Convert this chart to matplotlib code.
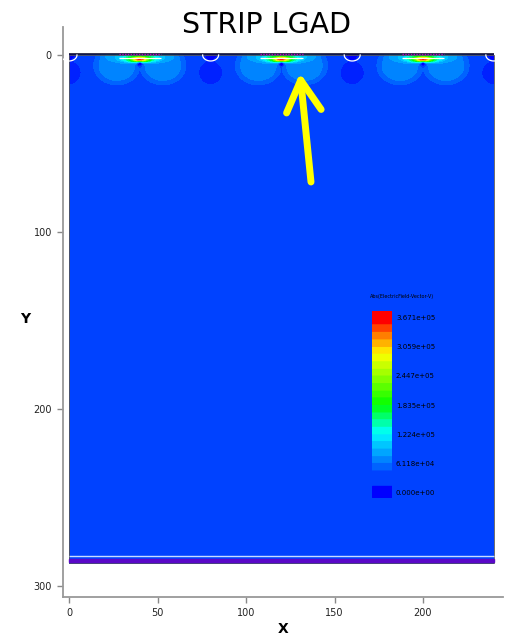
import numpy as np
import matplotlib
matplotlib.use("Agg")
import matplotlib.pyplot as plt
from matplotlib.colors import LinearSegmentedColormap, BoundaryNorm
from matplotlib.patches import Rectangle
import matplotlib.transforms as mtransforms

# device geometry (um) and field values (1e5 V/cm)
strip_x = [40, 120, 200]
gap_x = [0, 80, 160, 240]
device_width = 240
device_depth = 287
field_bg = 0.40
lobe_amp = 0.30
inner_amp = 0.25
cyan_amp = 0.75
hot_amp = 2.2
gap_amp = -0.22
cbar_ticks = [3.671, 3.059, 2.447, 1.835, 1.224, 0.6118, 0.0]
cbar_labels = ["3.671e+05", "3.059e+05", "2.447e+05", "1.835e+05",
               "1.224e+05", "6.118e+04", "0.000e+00"]
vmax = 3.671

# TCAD-like rainbow
cmap = LinearSegmentedColormap.from_list(
    "tcad", [(0.0, (0, 0, 1)), (0.333, (0, 1, 1)), (0.5, (0, 1, 0)),
             (0.8, (1, 1, 0)), (0.9, (1, 0.55, 0)), (1.0, (1, 0, 0))])
levels = np.linspace(0, vmax, 25)
norm = BoundaryNorm(levels, cmap.N)


def blob(X, Y, xc, yc, rx, ry, p=1):
    d2 = ((X - xc) / rx) ** 2 + ((Y - yc) / ry) ** 2
    return np.exp(-d2 ** p)


x = np.linspace(0, device_width, 481)
y = np.linspace(0, device_depth, 575)
X, Y = np.meshgrid(x, y)
F = np.full_like(X, field_bg)
for c in strip_x:
    F += lobe_amp * np.maximum(blob(X, Y, c - 13, 6, 12, 10, 3),
                               blob(X, Y, c + 13, 6, 12, 10, 3))
    F += inner_amp * blob(X, Y, c, 0, 20, 5, 3)
    F += cyan_amp * blob(X, Y, c, 2, 10, 2.2, 2)
    F += hot_amp * blob(X, Y, c, 2.4, 4.0, 1.2)
    F -= 0.9 * blob(X, Y, c, 4.8, 1.5, 1.5)
for g in gap_x:
    F += gap_amp * blob(X, Y, g, 10, 7, 7, 3)
    F -= 0.3 * blob(X, Y, g, 0, 4.5, 3.5, 3)
F = np.clip(F, 0.001, vmax - 0.001)

fig = plt.figure(figsize=(5.15, 6.38), dpi=100)
ax = fig.add_axes([63 / 515, 1 - 597 / 638, 440 / 515, 570 / 638])

ax.contourf(X, Y, F, levels=levels, cmap=cmap, norm=norm)
ax.add_patch(Rectangle((0, 0), device_width, device_depth, fill=False,
                       edgecolor="#555555", lw=0.6, zorder=3))

# contacts, junction lines and backside layers
ax.hlines(-0.6, 0, device_width, color="#101030", lw=1.2, zorder=4)
for c in strip_x:
    ax.hlines(-0.4, c - 12, c + 12, color="#c000c0", lw=1.0, linestyle=(0, (1, 1)), zorder=5)
    ax.hlines(1.6, c - 12, c + 12, color="white", lw=0.9, zorder=4)
t = np.linspace(0, np.pi, 40)
for g in gap_x:
    ax.plot(g + 4.5 * np.cos(t), 3.4 * np.sin(t), color="white", lw=0.9, zorder=4)
ax.hlines(283, 0, device_width, color="#c8dcff", lw=1.0, zorder=4)
ax.axhspan(284.6, 286.4, xmin=(0 + 3.4) / 248.6, xmax=(240 + 3.4) / 248.6,
           color="#5a08c8", zorder=4)

ax.set_xlim(-3.4, 245.2)
ax.set_ylim(306.2, -15.8)
ax.set_xticks([0, 50, 100, 150, 200])
ax.set_yticks([0, 100, 200, 300])
for s in ["top", "right"]:
    ax.spines[s].set_visible(False)
for s in ["left", "bottom"]:
    ax.spines[s].set_color("#999999")
    ax.spines[s].set_linewidth(1.3)
ax.tick_params(direction="out", length=4, width=1, color="#888888",
               labelsize=7, labelcolor="#222222", pad=4)
ax.set_xlabel("X", fontsize=10, fontweight="bold")
ax.set_ylabel("Y", fontsize=10, fontweight="bold", rotation=0)
ax.xaxis.set_label_coords((283 - 63) / 440, (597 - 622) / 570)
ax.yaxis.set_label_coords((25 - 63) / 440, (597 - 326) / 570)

fig.text(267 / 515, 1 - 25 / 638, "STRIP LGAD", fontsize=20.5,
         ha="center", va="center")

# legend colour bar inside the plot
cax = fig.add_axes([372 / 515, 1 - 498 / 638, 20 / 515, 187 / 638])
cax.set_xlim(0, 1)
cax.set_ylim(-0.1, 3.817)
cax.axis("off")
col = np.linspace(0.31, 3.817, 200).reshape(-1, 1)
cax.imshow(np.clip(col, 0, vmax - 0.001), cmap=cmap, norm=norm, origin="lower",
           extent=[0, 1, 0.31, 3.817], aspect="auto")
cax.axhspan(-0.08, 0.155, color=cmap(0.0))
tr = mtransforms.blended_transform_factory(cax.transAxes, cax.transData)
for v, lab in zip(cbar_ticks, cbar_labels):
    cax.text(1.2, v, lab, transform=tr, fontsize=5, va="center", ha="left")
fig.text(370 / 515, 1 - 297 / 638, "Abs(ElectricField-Vector-V)", fontsize=3.5,
         ha="left", va="center")

# arrow pointing at the strip
ax.annotate("", xy=(300, 638 - 73), xycoords="figure pixels",
            xytext=(311, 638 - 182), textcoords="figure pixels",
            arrowprops=dict(arrowstyle="->,head_length=0.45,head_width=0.25",
                            mutation_scale=50, color="#ffff00", lw=5,
                            shrinkA=0, shrinkB=0, capstyle="round"))

fig.savefig("out.png", dpi=100)
